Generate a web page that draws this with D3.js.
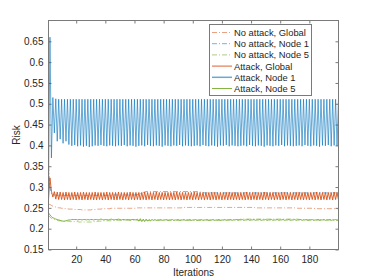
<!DOCTYPE html>
<html lang="en">
<head>
<meta charset="UTF-8">
<title>Risk vs Iterations</title>
<script src="https://d3js.org/d3.v7.min.js"></script>
<style>
  body { margin: 0; background: #fff; }
  svg { display: block; font-family: "Liberation Sans", Arial, sans-serif; }
  .tick text { fill: #262626; font-size: 10px; }
</style>
</head>
<body>
<svg width="374" height="280"></svg>
<script>
// ---- data ----
const seriesNames = ["No attack, Global", "No attack, Node 1", "No attack, Node 5",
                     "Attack, Global", "Attack, Node 1", "Attack, Node 5"];
const xTicks = [20, 40, 60, 80, 100, 120, 140, 160, 180];
const yTicks = [0.15, 0.2, 0.25, 0.3, 0.35, 0.4, 0.45, 0.5, 0.55, 0.6, 0.65];

const noAttackGlobal = [
  0.259,0.258,0.256,0.254,0.253,0.252,0.251,0.250,0.250,0.249,
  0.249,0.248,0.248,0.248,0.247,0.247,0.247,0.247,0.246,0.246,
  0.246,0.246,0.246,0.245,0.245,0.245,0.245,0.245,0.245,0.245,
  0.246,0.246,0.246,0.247,0.247,0.247,0.247,0.248,0.248,0.248,
  0.248,0.248,0.248,0.249,0.249,0.249,0.249,0.249,0.249,0.249,
  0.249,0.249,0.249,0.249,0.249,0.249,0.249,0.249,0.249,0.249,
  0.249,0.250,0.250,0.250,0.250,0.250,0.250,0.250,0.250,0.250,
  0.250,0.250,0.250,0.250,0.250,0.250,0.250,0.250,0.250,0.250,
  0.250,0.250,0.250,0.250,0.250,0.250,0.250,0.250,0.250,0.250,
  0.250,0.250,0.251,0.251,0.251,0.251,0.251,0.251,0.251,0.251,
  0.251,0.251,0.251,0.251,0.251,0.251,0.251,0.251,0.251,0.251,
  0.251,0.251,0.251,0.251,0.251,0.251,0.251,0.251,0.251,0.251,
  0.251,0.251,0.251,0.251,0.251,0.251,0.251,0.251,0.251,0.251,
  0.251,0.251,0.251,0.251,0.251,0.251,0.251,0.251,0.251,0.251,
  0.251,0.251,0.250,0.250,0.250,0.250,0.250,0.250,0.250,0.250,
  0.250,0.250,0.250,0.250,0.250,0.250,0.250,0.250,0.250,0.250,
  0.250,0.250,0.250,0.250,0.250,0.250,0.250,0.250,0.250,0.250,
  0.249,0.249,0.249,0.249,0.249,0.249,0.249,0.249,0.249,0.249,
  0.249,0.249,0.249,0.248,0.248,0.248,0.248,0.248,0.248,0.248,
  0.248,0.248,0.248,0.248,0.248,0.248,0.248,0.248,0.248,0.248
];

const noAttackNode1 = [
  0.350,0.300,0.285,0.282,0.281,0.281,0.280,0.280,0.280,0.280,
  0.280,0.280,0.280,0.280,0.280,0.280,0.280,0.280,0.280,0.280,
  0.280,0.280,0.280,0.280,0.280,0.280,0.280,0.280,0.280,0.280,
  0.280,0.280,0.280,0.280,0.280,0.280,0.280,0.280,0.280,0.280,
  0.280,0.280,0.280,0.280,0.281,0.281,0.281,0.281,0.281,0.281,
  0.281,0.281,0.281,0.281,0.281,0.281,0.281,0.281,0.281,0.281,
  0.281,0.282,0.283,0.284,0.285,0.287,0.288,0.289,0.289,0.289,
  0.289,0.289,0.289,0.289,0.289,0.289,0.289,0.289,0.289,0.289,
  0.289,0.289,0.289,0.289,0.289,0.289,0.289,0.289,0.289,0.289,
  0.289,0.289,0.289,0.289,0.289,0.289,0.289,0.289,0.289,0.289,
  0.289,0.289,0.289,0.288,0.288,0.287,0.287,0.286,0.286,0.286,
  0.286,0.286,0.286,0.286,0.286,0.286,0.286,0.286,0.286,0.286,
  0.286,0.286,0.286,0.286,0.286,0.286,0.286,0.286,0.286,0.286,
  0.286,0.286,0.286,0.286,0.286,0.286,0.286,0.286,0.286,0.286,
  0.286,0.286,0.286,0.286,0.286,0.286,0.286,0.286,0.286,0.286,
  0.286,0.286,0.286,0.286,0.286,0.286,0.286,0.286,0.286,0.286,
  0.286,0.286,0.286,0.286,0.286,0.286,0.286,0.286,0.286,0.286,
  0.286,0.286,0.286,0.286,0.286,0.286,0.286,0.286,0.286,0.286,
  0.286,0.286,0.286,0.286,0.286,0.286,0.286,0.286,0.286,0.286,
  0.286,0.286,0.286,0.286,0.286,0.286,0.286,0.286,0.286,0.286
];

const noAttackNode5 = [
  0.232,0.228,0.225,0.223,0.222,0.221,0.220,0.219,0.219,0.218,
  0.218,0.218,0.218,0.218,0.218,0.217,0.217,0.217,0.217,0.217,
  0.217,0.216,0.216,0.216,0.216,0.216,0.216,0.216,0.216,0.216,
  0.216,0.217,0.217,0.217,0.218,0.218,0.218,0.219,0.219,0.219,
  0.219,0.219,0.219,0.219,0.220,0.220,0.220,0.220,0.220,0.220,
  0.220,0.220,0.220,0.220,0.220,0.220,0.220,0.220,0.220,0.220,
  0.220,0.220,0.220,0.220,0.220,0.220,0.220,0.220,0.220,0.220,
  0.220,0.220,0.220,0.220,0.220,0.220,0.220,0.220,0.220,0.220,
  0.220,0.220,0.220,0.220,0.220,0.220,0.220,0.220,0.220,0.220,
  0.220,0.220,0.220,0.220,0.220,0.220,0.220,0.220,0.220,0.220,
  0.220,0.220,0.220,0.220,0.220,0.220,0.220,0.220,0.220,0.220,
  0.220,0.220,0.220,0.220,0.220,0.220,0.220,0.220,0.220,0.220,
  0.220,0.220,0.221,0.221,0.221,0.221,0.221,0.222,0.222,0.222,
  0.222,0.222,0.223,0.223,0.223,0.223,0.223,0.223,0.223,0.223,
  0.223,0.223,0.223,0.223,0.223,0.223,0.223,0.223,0.223,0.223,
  0.223,0.223,0.223,0.223,0.223,0.223,0.223,0.223,0.223,0.223,
  0.223,0.223,0.223,0.223,0.223,0.223,0.223,0.223,0.223,0.223,
  0.223,0.223,0.222,0.222,0.222,0.222,0.221,0.221,0.221,0.221,
  0.221,0.221,0.221,0.221,0.221,0.221,0.221,0.221,0.221,0.221,
  0.221,0.221,0.221,0.221,0.221,0.221,0.221,0.221,0.221,0.221
];

const attackGlobal = [
  0.270,0.322,0.290,0.276,0.289,0.271,0.288,0.270,0.288,0.270,
  0.287,0.269,0.288,0.270,0.287,0.269,0.287,0.270,0.288,0.269,
  0.287,0.270,0.287,0.269,0.288,0.270,0.287,0.269,0.287,0.270,
  0.287,0.269,0.288,0.269,0.287,0.270,0.287,0.269,0.287,0.270,
  0.288,0.269,0.287,0.270,0.287,0.269,0.287,0.269,0.288,0.270,
  0.287,0.269,0.287,0.270,0.287,0.269,0.288,0.270,0.287,0.269,
  0.287,0.270,0.287,0.269,0.287,0.270,0.288,0.269,0.287,0.270,
  0.287,0.269,0.287,0.270,0.288,0.269,0.287,0.270,0.287,0.269,
  0.287,0.270,0.287,0.269,0.287,0.270,0.287,0.269,0.288,0.270,
  0.287,0.269,0.287,0.270,0.287,0.269,0.287,0.270,0.287,0.269,
  0.288,0.270,0.287,0.269,0.287,0.270,0.287,0.269,0.287,0.270,
  0.287,0.269,0.288,0.270,0.287,0.269,0.287,0.270,0.287,0.269,
  0.287,0.270,0.287,0.269,0.288,0.270,0.287,0.269,0.287,0.270,
  0.287,0.269,0.287,0.270,0.287,0.269,0.288,0.270,0.287,0.269,
  0.287,0.270,0.287,0.269,0.287,0.270,0.287,0.269,0.288,0.270,
  0.287,0.269,0.287,0.270,0.287,0.269,0.287,0.270,0.287,0.269,
  0.288,0.270,0.287,0.269,0.287,0.270,0.287,0.269,0.287,0.270,
  0.287,0.269,0.288,0.270,0.287,0.269,0.287,0.270,0.287,0.269,
  0.287,0.270,0.287,0.269,0.288,0.270,0.287,0.269,0.287,0.270,
  0.287,0.269,0.287,0.270,0.287,0.269,0.288,0.270,0.287,0.269
];

const attackNode1 = [
  0.300,0.660,0.370,0.515,0.430,0.512,0.410,0.511,0.415,0.511,
  0.405,0.511,0.410,0.511,0.402,0.511,0.399,0.511,0.401,0.511,
  0.398,0.511,0.400,0.511,0.397,0.511,0.399,0.511,0.396,0.511,
  0.398,0.511,0.400,0.511,0.399,0.511,0.401,0.511,0.399,0.511,
  0.398,0.511,0.400,0.511,0.399,0.511,0.398,0.511,0.400,0.511,
  0.399,0.511,0.401,0.511,0.398,0.511,0.400,0.511,0.399,0.511,
  0.397,0.511,0.399,0.511,0.400,0.511,0.398,0.511,0.401,0.511,
  0.399,0.511,0.398,0.511,0.400,0.511,0.399,0.511,0.397,0.511,
  0.400,0.511,0.399,0.511,0.398,0.511,0.400,0.511,0.399,0.511,
  0.401,0.511,0.398,0.511,0.400,0.511,0.399,0.511,0.398,0.511,
  0.399,0.511,0.400,0.511,0.398,0.511,0.401,0.511,0.399,0.511,
  0.398,0.511,0.400,0.511,0.399,0.511,0.397,0.511,0.400,0.511,
  0.399,0.511,0.401,0.511,0.398,0.511,0.400,0.511,0.399,0.511,
  0.398,0.511,0.399,0.511,0.400,0.511,0.398,0.511,0.401,0.511,
  0.399,0.511,0.398,0.511,0.400,0.511,0.399,0.511,0.397,0.511,
  0.400,0.511,0.399,0.511,0.398,0.511,0.400,0.511,0.399,0.511,
  0.401,0.511,0.398,0.511,0.400,0.511,0.399,0.511,0.398,0.511,
  0.399,0.511,0.400,0.511,0.398,0.511,0.401,0.511,0.399,0.511,
  0.398,0.511,0.400,0.511,0.399,0.511,0.397,0.511,0.400,0.511,
  0.399,0.511,0.401,0.511,0.398,0.511,0.400,0.511,0.399,0.511
];

const attackNode5 = [
  0.238,0.233,0.229,0.226,0.225,0.223,0.222,0.221,0.220,0.219,
  0.218,0.218,0.219,0.220,0.221,0.221,0.222,0.222,0.222,0.222,
  0.221,0.222,0.222,0.221,0.222,0.222,0.221,0.222,0.221,0.222,
  0.222,0.221,0.222,0.222,0.221,0.222,0.223,0.222,0.221,0.222,
  0.222,0.221,0.222,0.223,0.222,0.221,0.222,0.222,0.223,0.222,
  0.221,0.222,0.222,0.221,0.222,0.222,0.221,0.222,0.222,0.222,
  0.221,0.223,0.218,0.224,0.217,0.223,0.217,0.223,0.218,0.222,
  0.219,0.222,0.220,0.222,0.220,0.221,0.221,0.222,0.220,0.221,
  0.221,0.222,0.220,0.221,0.221,0.222,0.220,0.221,0.221,0.222,
  0.220,0.221,0.221,0.222,0.220,0.221,0.221,0.222,0.220,0.221,
  0.221,0.222,0.220,0.221,0.221,0.222,0.220,0.221,0.221,0.222,
  0.220,0.221,0.221,0.222,0.220,0.221,0.221,0.222,0.220,0.221,
  0.221,0.222,0.220,0.221,0.221,0.222,0.220,0.221,0.221,0.222,
  0.220,0.221,0.221,0.222,0.220,0.221,0.221,0.222,0.220,0.221,
  0.221,0.222,0.220,0.221,0.221,0.222,0.220,0.221,0.221,0.222,
  0.220,0.221,0.221,0.222,0.220,0.221,0.221,0.222,0.220,0.221,
  0.221,0.222,0.220,0.221,0.221,0.222,0.220,0.221,0.221,0.222,
  0.220,0.221,0.221,0.222,0.220,0.221,0.221,0.222,0.220,0.221,
  0.221,0.222,0.220,0.221,0.221,0.222,0.220,0.221,0.221,0.222,
  0.220,0.221,0.221,0.222,0.220,0.221,0.221,0.222,0.220,0.221
];

const seriesValues = [noAttackGlobal, noAttackNode1, noAttackNode5,
                      attackGlobal, attackNode1, attackNode5];

// ---- styles ----
const colors = ["#D95319", "#0072BD", "#77AC30", "#D95319", "#0072BD", "#77AC30"];
const dashed = [true, true, true, false, false, false];
const opac   = [0.55, 0.55, 0.6, 0.9, 0.6, 0.9];

const svg = d3.select("svg");
const plotL = 48.5, plotR = 338.5, plotT = 20.5, plotB = 249.5;

const x = d3.scaleLinear().domain([1, 200]).range([plotL, plotR]);
const y = d3.scaleLinear().domain([0.15, 0.7]).range([plotB, plotT]);

// axes
const axisColor = "#7a7a7a";
function styleAxis(g, labels) {
  g.select(".domain").remove();
  g.selectAll(".tick line").attr("stroke", axisColor);
  if (!labels) g.selectAll(".tick text").remove();
}
svg.append("g").attr("transform", `translate(0,${plotB})`)
  .call(d3.axisBottom(x).tickValues(xTicks).tickSize(-3).tickPadding(6))
  .call(g => styleAxis(g, true));
svg.append("g").attr("transform", `translate(0,${plotT})`)
  .call(d3.axisTop(x).tickValues(xTicks).tickSize(-3))
  .call(g => styleAxis(g, false));
svg.append("g").attr("transform", `translate(${plotL},0)`)
  .call(d3.axisLeft(y).tickValues(yTicks).tickSize(-3).tickPadding(5).tickFormat(d3.format("")))
  .call(g => styleAxis(g, true));
svg.append("g").attr("transform", `translate(${plotR},0)`)
  .call(d3.axisRight(y).tickValues(yTicks).tickSize(-3))
  .call(g => styleAxis(g, false));

// series
const line = d3.line().x((d, i) => x(i + 1)).y(d => y(d));
svg.append("g")
  .selectAll("path")
  .data(seriesValues)
  .join("path")
  .attr("d", line)
  .attr("fill", "none")
  .attr("stroke", (d, i) => colors[i])
  .attr("stroke-opacity", (d, i) => opac[i])
  .attr("stroke-width", 1)
  .attr("stroke-dasharray", (d, i) => dashed[i] ? "5,2,1,2" : null);

// box
svg.append("rect")
  .attr("x", plotL).attr("y", plotT)
  .attr("width", plotR - plotL).attr("height", plotB - plotT)
  .attr("fill", "none").attr("stroke", axisColor);

// axis labels
svg.append("text")
  .attr("x", (plotL + plotR) / 2).attr("y", 276)
  .attr("text-anchor", "middle").attr("font-size", 10).attr("fill", "#262626")
  .text("Iterations");
svg.append("text")
  .attr("transform", `translate(20,${(plotT + plotB) / 2}) rotate(-90)`)
  .attr("text-anchor", "middle").attr("font-size", 10).attr("fill", "#262626")
  .text("Risk");

// legend
const lg = svg.append("g");
lg.append("rect")
  .attr("x", 209.5).attr("y", 24.5).attr("width", 102).attr("height", 71)
  .attr("fill", "#fff").attr("stroke", axisColor);
seriesNames.forEach((name, i) => {
  const yy = 32.5 + i * 11.2;
  lg.append("line")
    .attr("x1", 212).attr("x2", 232).attr("y1", yy).attr("y2", yy)
    .attr("stroke", colors[i]).attr("stroke-opacity", opac[i])
    .attr("stroke-width", i === 4 ? 1.5 : 1)
    .attr("stroke-dasharray", dashed[i] ? "5,2,1,2" : null);
  lg.append("text")
    .attr("x", 234).attr("y", yy + 3.4)
    .attr("font-size", 9.4).attr("fill", "#262626")
    .text(name);
});
</script>
</body>
</html>
